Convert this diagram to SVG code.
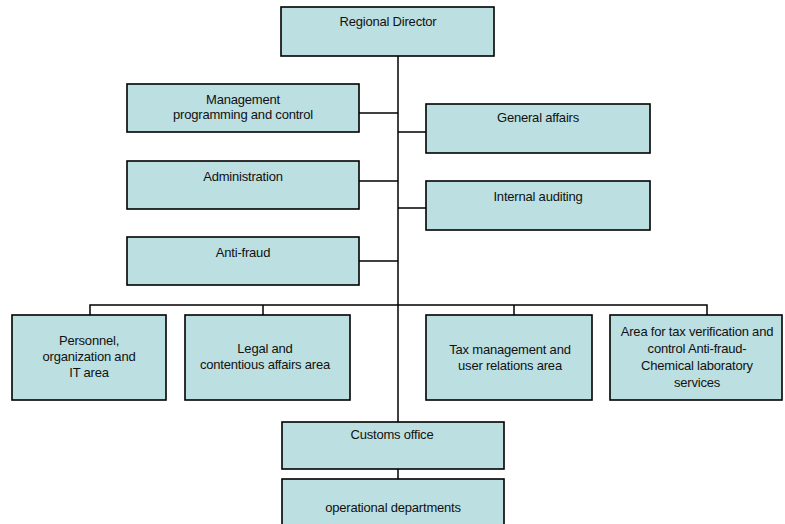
<svg xmlns="http://www.w3.org/2000/svg" width="785" height="524" viewBox="0 0 785 524">
  <style>
    .box { fill: #bcdfe2; stroke: #000; stroke-width: 1.6; }
    .lbl { font-family: "Liberation Sans", Arial, sans-serif; font-size: 13px; fill: #111; text-anchor: middle; letter-spacing: -0.2px; }
    .link { fill: none; stroke: #000; stroke-width: 1.5; }
  </style>
  <rect width="785" height="524" fill="#fff"/>

  <!-- connectors -->
  <g id="connectors">
    <path class="link" d="M398 56 V422"/>
    <path class="link" d="M359 113 H398"/>
    <path class="link" d="M398 132 H426"/>
    <path class="link" d="M359 181 H398"/>
    <path class="link" d="M398 208 H426"/>
    <path class="link" d="M359 261 H398"/>
    <path class="link" d="M90 315 V305 H707 V315"/>
    <path class="link" d="M263 305 V315"/>
    <path class="link" d="M514 305 V315"/>
    <path class="link" d="M398 469 V479"/>
  </g>

  <g id="regional-director">
    <rect class="box" x="281" y="7" width="213" height="49"/>
    <text class="lbl" x="388" y="26">Regional Director</text>
  </g>

  <g id="management">
    <rect class="box" x="127" y="84" width="232" height="48"/>
    <text class="lbl" x="243" y="104">Management</text>
    <text class="lbl" x="243" y="119">programming and control</text>
  </g>

  <g id="general-affairs">
    <rect class="box" x="426" y="104" width="224" height="49"/>
    <text class="lbl" x="538" y="122">General affairs</text>
  </g>

  <g id="administration">
    <rect class="box" x="127" y="161" width="232" height="48"/>
    <text class="lbl" x="243" y="181">Administration</text>
  </g>

  <g id="internal-auditing">
    <rect class="box" x="426" y="181" width="224" height="49"/>
    <text class="lbl" x="538" y="201">Internal auditing</text>
  </g>

  <g id="anti-fraud">
    <rect class="box" x="127" y="237" width="232" height="48"/>
    <text class="lbl" x="243" y="257">Anti-fraud</text>
  </g>

  <g id="personnel">
    <rect class="box" x="12" y="315" width="154" height="85"/>
    <text class="lbl" x="89" y="345">Personnel,</text>
    <text class="lbl" x="89" y="361">organization and</text>
    <text class="lbl" x="89" y="377">IT area</text>
  </g>

  <g id="legal">
    <rect class="box" x="185" y="315" width="165" height="85"/>
    <text class="lbl" x="265" y="353">Legal and</text>
    <text class="lbl" x="265" y="369">contentious affairs area</text>
  </g>

  <g id="tax-management">
    <rect class="box" x="426" y="315" width="166" height="85"/>
    <text class="lbl" x="510" y="354">Tax management and</text>
    <text class="lbl" x="510" y="370">user relations area</text>
  </g>

  <g id="tax-verification">
    <rect class="box" x="610" y="315" width="172" height="85"/>
    <text class="lbl" x="697" y="336">Area for tax verification and</text>
    <text class="lbl" x="697" y="353">control Anti-fraud-</text>
    <text class="lbl" x="697" y="370">Chemical laboratory</text>
    <text class="lbl" x="697" y="387">services</text>
  </g>

  <g id="customs-office">
    <rect class="box" x="282" y="422" width="222" height="47"/>
    <text class="lbl" x="392" y="439">Customs office</text>
  </g>

  <g id="operational-departments">
    <rect class="box" x="282" y="479" width="222" height="52"/>
    <text class="lbl" x="393" y="512">operational departments</text>
  </g>
</svg>
